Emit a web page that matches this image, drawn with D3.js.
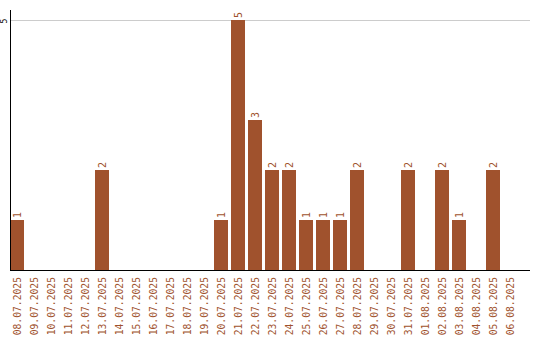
<!DOCTYPE html>
<html>
<head>
<meta charset="utf-8">
<script src="https://cdn.jsdelivr.net/npm/d3@7"></script>
<style>
  body { margin: 0; background: #fff; }
  text { font-family: "DejaVu Sans Mono", monospace; font-size: 10px; fill: #a0522d; }
</style>
</head>
<body>
<div id="chart"></div>
<script>
const width = 540,
    height = 340;

const dates = ['08.07.2025', '09.07.2025', '10.07.2025', '11.07.2025', '12.07.2025', '13.07.2025',
    '14.07.2025', '15.07.2025', '16.07.2025', '17.07.2025', '18.07.2025', '19.07.2025',
    '20.07.2025', '21.07.2025', '22.07.2025', '23.07.2025', '24.07.2025', '25.07.2025',
    '26.07.2025', '27.07.2025', '28.07.2025', '29.07.2025', '30.07.2025', '31.07.2025',
    '01.08.2025', '02.08.2025', '03.08.2025', '04.08.2025', '05.08.2025', '06.08.2025'];
const counts = [1, 0, 0, 0, 0, 2, 0, 0, 0, 0, 0, 0, 1, 5, 3, 2, 2, 1, 1, 1, 2, 0, 0, 2, 0, 2, 1, 0, 2, 0];
const yTicks = [5];

const mLeft = 10, baseline = 270, mTop = 20, mRight = 530;

const svg = d3.select('#chart')
    .append('svg')
    .attr('width', width)
    .attr('height', height);

const xScale = d3.scaleBand()
    .domain(dates)
    .range([mLeft, mLeft + 17 * dates.length - 3])
    .paddingInner(3 / 17)
    .paddingOuter(0);

const yScale = d3.scaleLinear()
    .domain([0, 5])
    .range([baseline, mTop]);

// gridline
svg.selectAll('.grid')
    .data(yTicks)
    .enter()
    .append('line')
    .attr('x1', mLeft)
    .attr('x2', mRight)
    .attr('y1', d => yScale(d) + 0.5)
    .attr('y2', d => yScale(d) + 0.5)
    .attr('stroke', '#ccc');

const data = dates.map((d, i) => ({ date: d, value: counts[i] }));

svg.selectAll('.bar')
    .data(data)
    .enter()
    .append('rect')
    .attr('x', d => xScale(d.date))
    .attr('y', d => yScale(d.value))
    .attr('width', xScale.bandwidth())
    .attr('height', d => baseline - yScale(d.value))
    .attr('fill', '#a0522d');

// value labels
svg.selectAll('.val')
    .data(data.filter(d => d.value > 0))
    .enter()
    .append('text')
    .attr('transform', d => 'translate(' + (xScale(d.date) + xScale.bandwidth() / 2 + 3.5) + ',' + (yScale(d.value) - 2) + ') rotate(-90)')
    .attr('text-anchor', 'start')
    .text(d => d.value);

// x tick labels
svg.selectAll('.xlab')
    .data(dates)
    .enter()
    .append('text')
    .attr('transform', d => 'translate(' + (xScale(d) + xScale.bandwidth() / 2 + 4) + ',' + (baseline + 7) + ') rotate(-90)')
    .attr('text-anchor', 'end')
    .style('font-size', '9.7px')
    .text(d => d);

// y tick label
svg.selectAll('.ylab')
    .data(yTicks)
    .enter()
    .append('text')
    .attr('transform', d => 'translate(' + 7 + ',' + (yScale(d) + 1) + ') rotate(-90)')
    .attr('text-anchor', 'middle')
    .style('fill', '#000')
    .style('font-size', '8px')
    .text(d => d);

// axes
svg.append('line')
    .attr('x1', mLeft + 0.5).attr('x2', mLeft + 0.5)
    .attr('y1', 10).attr('y2', baseline + 1)
    .attr('stroke', '#000');
svg.append('line')
    .attr('x1', mLeft).attr('x2', mRight)
    .attr('y1', baseline + 0.5).attr('y2', baseline + 0.5)
    .attr('stroke', '#000');
</script>
</body>
</html>
